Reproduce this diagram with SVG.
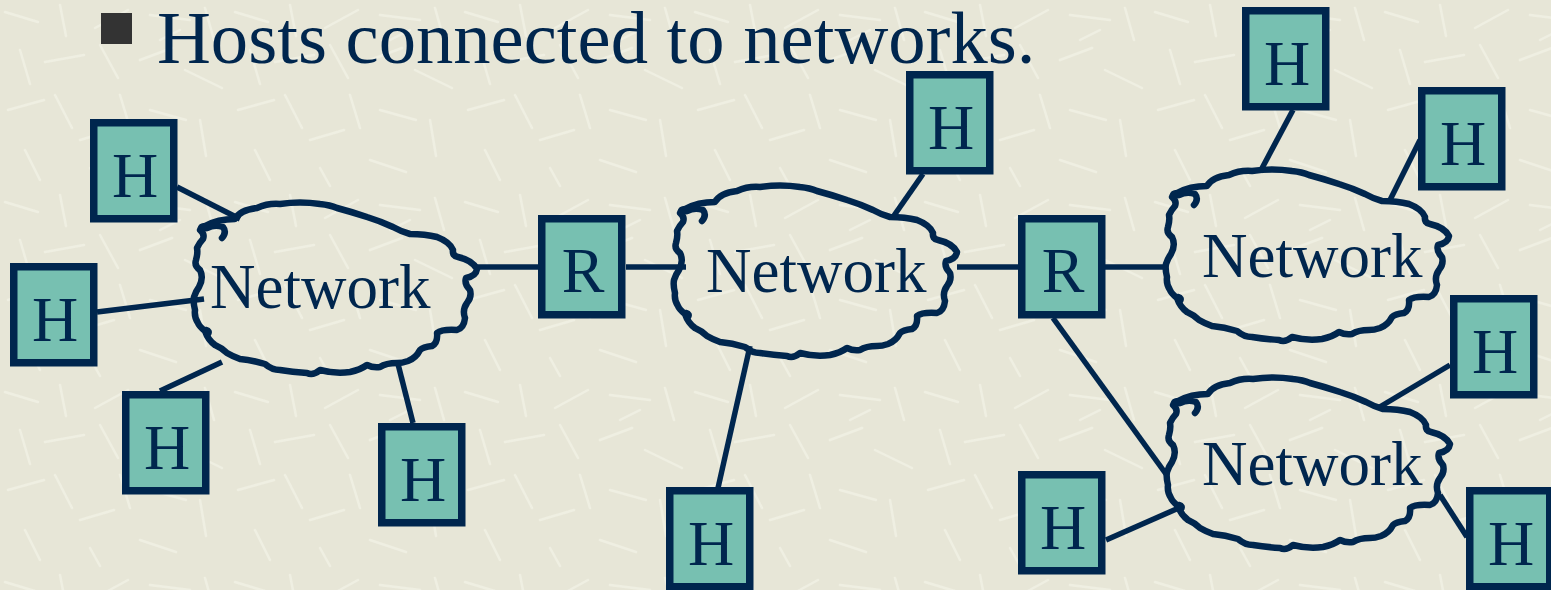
<svg xmlns="http://www.w3.org/2000/svg" width="1551" height="590" viewBox="0 0 1551 590">
<style>
.bg{fill:#E7E6D7}
.box rect{fill:#77C0B1;stroke:#00264E;stroke-width:7.5}
.box text{font-family:"Liberation Serif",serif;font-size:64px;fill:#00264E;text-anchor:middle}
.cloud{fill:none;stroke:#00264E;stroke-width:6.5;stroke-linejoin:round;stroke-linecap:round}
.lbl{font-family:"Liberation Serif",serif;font-size:63px;fill:#00264E}
.conn line{stroke:#00264E;stroke-width:5.5}
.title{font-family:"Liberation Serif",serif;font-size:74.6px;fill:#00264E}
</style>
<defs>
<pattern id="tex" width="230" height="190" patternUnits="userSpaceOnUse">
<g stroke="#F2F2E6" stroke-width="2.5" stroke-linecap="round" opacity="0.75">
<line x1="5" y1="12" x2="38" y2="22"/>
<line x1="60" y1="5" x2="66" y2="36"/>
<line x1="95" y1="28" x2="128" y2="10"/>
<line x1="150" y1="15" x2="190" y2="20"/>
<line x1="205" y1="8" x2="214" y2="40"/>
<line x1="20" y1="50" x2="30" y2="84"/>
<line x1="45" y1="62" x2="84" y2="55"/>
<line x1="100" y1="45" x2="118" y2="78"/>
<line x1="140" y1="60" x2="172" y2="48"/>
<line x1="185" y1="70" x2="222" y2="88"/>
<line x1="120" y1="95" x2="130" y2="128"/>
<line x1="8" y1="110" x2="44" y2="100"/>
<line x1="55" y1="95" x2="72" y2="128"/>
<line x1="80" y1="140" x2="114" y2="130"/>
<line x1="150" y1="110" x2="186" y2="120"/>
<line x1="200" y1="120" x2="206" y2="156"/>
<line x1="25" y1="150" x2="40" y2="180"/>
<line x1="140" y1="160" x2="176" y2="172"/>
<line x1="90" y1="168" x2="100" y2="186"/>
<line x1="180" y1="30" x2="160" y2="40"/>
</g>
</pattern>
<path id="cl" d="M25,36 Q38,29 55,29 Q60,20 77,18 Q88,13 100,14 Q120,11 140,14 Q150,15 157,18 Q172,22 187,27 Q200,31 213,37 Q222,42 230,44 Q245,44 257,47 Q270,52 273,60 Q272,66 278,67 Q292,70 297,79 Q296,86 286,88 Q284,94 290,100 Q292,107 287,113 Q282,120 285,128 Q284,138 277,140 Q262,139 257,143 Q258,153 252,156 Q243,157 240,160 Q236,168 228,171 Q222,173 217,173 Q206,173 200,177 Q193,178 187,175 Q180,180 170,182 Q155,184 140,180 Q133,186 127,183 Q112,182 100,180 Q92,180 85,174 Q72,170 60,169 Q52,166 47,163 Q42,158 35,155 Q28,150 25,141 Q19,136 18,133 Q14,127 15,120 Q13,112 14,107 Q16,101 19,97 Q24,88 20,80 Q14,76 16,70 Q18,63 17,58 Q20,52 23,49 Q25,44 20,40 Q21,36 25,36 Z M27,38 Q35,34 43,37 Q47,42 42,48 M26,140 Q30,141 28,144"/>
</defs>
<rect class="bg" x="0" y="0" width="1551" height="590"/>
<rect x="0" y="0" width="1551" height="590" fill="url(#tex)"/>

<g id="title">
<rect x="101" y="13" width="31" height="31" fill="#333333"/>
<text class="title" x="157" y="63">Hosts connected to networks.</text>
</g>

<g id="connectors" class="conn">
<line x1="177" y1="187" x2="240" y2="219"/>
<line x1="97" y1="312" x2="204" y2="299"/>
<line x1="160" y1="391" x2="222" y2="362"/>
<line x1="413" y1="423" x2="398" y2="364"/>
<line x1="476" y1="267" x2="538" y2="267"/>
<line x1="626" y1="267" x2="686" y2="267"/>
<line x1="923" y1="174" x2="893" y2="217"/>
<line x1="750" y1="346" x2="718" y2="488"/>
<line x1="957" y1="267" x2="1018" y2="267"/>
<line x1="1105" y1="267" x2="1167" y2="267"/>
<line x1="1053" y1="318" x2="1166" y2="474"/>
<line x1="1106" y1="540" x2="1181" y2="507"/>
<line x1="1293" y1="110" x2="1260" y2="172"/>
<line x1="1420" y1="140" x2="1389" y2="202"/>
<line x1="1450" y1="365" x2="1378" y2="408"/>
<line x1="1440" y1="495" x2="1467" y2="537"/>
</g>

<g id="net1">
<use href="#cl" class="cloud" transform="translate(180,190)"/>
<text class="lbl" x="210" y="308">Network</text>
</g>
<g id="net2">
<use href="#cl" class="cloud" transform="translate(660,173)"/>
<text class="lbl" x="706" y="292">Network</text>
</g>
<g id="net3">
<use href="#cl" class="cloud" transform="translate(1152,157)"/>
<text class="lbl" x="1202" y="277">Network</text>
</g>
<g id="net4">
<use href="#cl" class="cloud" transform="translate(1153,365)"/>
<text class="lbl" x="1202" y="485">Network</text>
</g>

<g id="h1" class="box" transform="translate(90,119)"><rect x="3.75" y="3.75" width="80" height="96"/><text x="45" y="78">H</text></g>
<g id="h2" class="box" transform="translate(10,263)"><rect x="3.75" y="3.75" width="80" height="96"/><text x="45" y="78">H</text></g>
<g id="h3" class="box" transform="translate(122,391)"><rect x="3.75" y="3.75" width="80" height="96"/><text x="45" y="78">H</text></g>
<g id="h4" class="box" transform="translate(378,423)"><rect x="3.75" y="3.75" width="80" height="96"/><text x="45" y="78">H</text></g>
<g id="r1" class="box" transform="translate(538,215)"><rect x="3.75" y="3.75" width="80" height="96"/><text x="45" y="77">R</text></g>
<g id="h5" class="box" transform="translate(906,71)"><rect x="3.75" y="3.75" width="80" height="96"/><text x="45" y="78">H</text></g>
<g id="h6" class="box" transform="translate(666,487)"><rect x="3.75" y="3.75" width="80" height="96"/><text x="45" y="78">H</text></g>
<g id="r2" class="box" transform="translate(1018,215)"><rect x="3.75" y="3.75" width="80" height="96"/><text x="45" y="77">R</text></g>
<g id="h7" class="box" transform="translate(1242,7)"><rect x="3.75" y="3.75" width="80" height="96"/><text x="45" y="78">H</text></g>
<g id="h8" class="box" transform="translate(1418,87)"><rect x="3.75" y="3.75" width="80" height="96"/><text x="45" y="78">H</text></g>
<g id="h9" class="box" transform="translate(1450,295)"><rect x="3.75" y="3.75" width="80" height="96"/><text x="45" y="78">H</text></g>
<g id="h10" class="box" transform="translate(1018,471)"><rect x="3.75" y="3.75" width="80" height="96"/><text x="45" y="78">H</text></g>
<g id="h11" class="box" transform="translate(1466,487)"><rect x="3.75" y="3.75" width="80" height="96"/><text x="45" y="78">H</text></g>
</svg>
